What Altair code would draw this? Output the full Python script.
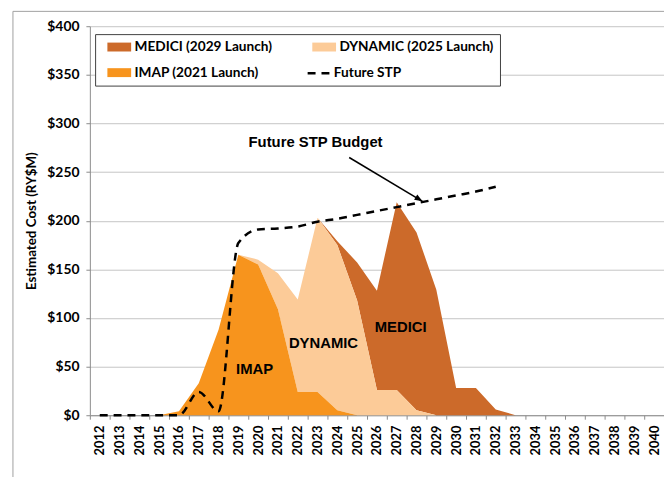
import altair as alt
import pandas as pd

# ---------------- data ----------------
years = list(range(2012, 2041))

imap_vals = [0, 0, 0, 0, 4, 33, 88, 165, 155, 109, 24, 24, 5,
             0, 0, 0, 0, 0, 0, 0, 0, 0, 0, 0, 0, 0, 0, 0, 0]
dynamic_vals = [0, 0, 0, 0, 0, 0, 0, 0, 5, 37, 95, 179, 170, 118,
                26, 26, 5, 0, 0, 0, 0, 0, 0, 0, 0, 0, 0, 0, 0]
medici_vals = [0, 0, 0, 0, 0, 0, 0, 0, 0, 0, 0, 0, 4, 39, 102,
               193, 183, 129, 28, 28, 6, 0, 0, 0, 0, 0, 0, 0, 0]
stp_vals = [0, 0, 0, 0, 0, 24, 4, 177, 191, 192, 194, 199, 202, 206,
            210, 214, 218, 222, 226, 230, 235,
            None, None, None, None, None, None, None, None]

series_names = ["MEDICI (2029 Launch)", "DYNAMIC (2025 Launch)", "IMAP (2021 Launch)"]
series_colors = ["#CC6A2A", "#FCCB98", "#F7941D"]
stack_rank = [2, 1, 0]
line_name = "Future STP"

y_ticks = [0, 50, 100, 150, 200, 250, 300, 350, 400]

# annotations: label, x (year units), value
ann_labels = ["IMAP", "DYNAMIC", "MEDICI", "Future STP Budget"]
ann_x = [2019.82, 2023.3, 2027.2, 2022.9]
ann_y = [47.8, 74.3, 90.6, 281]
arrow_from = (2024.6, 265)
arrow_to = (2028.3, 220)

# ---------------- tables ----------------
rows = []
for name, vals, rk in zip(series_names, [medici_vals, dynamic_vals, imap_vals], stack_rank):
    for yr, v in zip(years, vals):
        rows.append({"year": yr, "series": name, "value": v, "rank": rk})
area_df = pd.DataFrame(rows)

stp_df = pd.DataFrame({"year": years, "value": stp_vals})
stp_df = stp_df.dropna()
stp_df["series"] = line_name

ann_df = pd.DataFrame({"label": ann_labels, "x": ann_x, "value": ann_y})
arrow_df = pd.DataFrame({"x": [arrow_from[0]], "value": [arrow_from[1]],
                         "x2": [arrow_to[0]], "value2": [arrow_to[1]]})
head_df = pd.DataFrame({"x": [arrow_to[0]], "value": [arrow_to[1]]})
one_df = pd.DataFrame({"k": [0]})

LABEL_FONT = "Lato"
TEXT_FONT = "Liberation Sans"
LEG_FS = 13.8

y_scale = alt.Scale(domain=[0, 400], nice=False, zero=True)


def y_enc(field="value", stack=None):
    kw = {}
    if stack is not None:
        kw["stack"] = stack
    return alt.Y(
        f"{field}:Q",
        scale=y_scale,
        axis=alt.Axis(
            values=y_ticks,
            labelExpr="'$' + datum.value",
            title="Estimated Cost (RY$M)",
            titleFont=LABEL_FONT,
            titleFontSize=13.5,
            titleFontWeight="bold",
            titleColor="black",
            titlePadding=8,
            labelFont=LABEL_FONT,
            labelFontSize=14,
            labelFontWeight="bold",
            labelColor="black",
            labelPadding=7,
            tickSize=4,
            tickColor="#8C8C8C",
            domainColor="#8C8C8C",
            grid=True,
            gridColor="#C4C4C4",
        ),
        **kw,
    )


x_band = alt.X(
    "year:O",
    bandPosition=0.5,
    scale=alt.Scale(type="band", domain=years, paddingInner=0, paddingOuter=0),
    axis=alt.Axis(
        title=None,
        labelAngle=270,
        tickBand="extent",
        tickSize=4,
        tickColor="#8C8C8C",
        domainColor="#8C8C8C",
        labelFont=LABEL_FONT,
        labelFontSize=13,
        labelFontWeight="bold",
        labelColor="black",
        labelPadding=6,
        grid=False,
    ),
)

x_quant_scale = alt.Scale(domain=[2011.5, 2040.5], nice=False, zero=False)

area = alt.Chart(area_df).mark_area(interpolate="linear").encode(
    x=x_band,
    y=y_enc("value", stack="zero"),
    color=alt.Color(
        "series:N",
        scale=alt.Scale(domain=series_names, range=series_colors),
        legend=alt.Legend(
            title=None,
            orient="none",
            direction="horizontal",
            legendX=5.3,
            legendY=8,
            columns=2,
            columnPadding=34,
            rowPadding=11,
            padding=6,
            symbolType="M-2,-0.75H2V0.75H-2Z",
            symbolSize=144,
            symbolStrokeWidth=0,
            symbolOffset=11.5,
            labelFont=LABEL_FONT,
            labelFontSize=LEG_FS,
            labelFontWeight="bold",
            labelColor="black",
            labelOffset=8.5,
            strokeColor="#404040",
            fillColor="white",
        ),
    ),
    order=alt.Order("rank:Q", sort="ascending"),
)

line = alt.Chart(stp_df).mark_line(
    color="black", strokeWidth=2.5, interpolate="monotone"
).encode(
    x=x_band,
    y=y_enc("value"),
    strokeDash=alt.StrokeDash(
        "series:N",
        scale=alt.Scale(domain=[line_name], range=[[8, 6]]),
        legend=alt.Legend(
            title=None,
            orient="none",
            legendX=218.5,
            legendY=35,
            padding=0,
            symbolType="stroke",
            symbolSize=484,
            symbolStrokeWidth=2.5,
            symbolStrokeColor="black",
            labelFont=LABEL_FONT,
            labelFontSize=LEG_FS,
            labelFontWeight="bold",
            labelColor="black",
            labelOffset=3,
        ),
    ),
)

base = alt.layer(area, line)

texts = alt.Chart(ann_df).mark_text(
    font=TEXT_FONT, fontWeight="bold", fontSize=15, color="black",
    align="center", baseline="middle",
).encode(
    x=alt.X("x:Q", scale=x_quant_scale, axis=None),
    y=y_enc("value"),
    text="label:N",
)

arrow = alt.Chart(arrow_df).mark_rule(color="black", strokeWidth=1.5).encode(
    x=alt.X("x:Q", scale=x_quant_scale, axis=None),
    x2="x2:Q",
    y=y_enc("value"),
    y2="value2:Q",
)

head = alt.Chart(head_df).mark_point(
    shape="M0,0L-0.55,1.4L0.55,1.4Z", filled=True, size=130, angle=121,
    color="black", opacity=1,
).encode(
    x=alt.X("x:Q", scale=x_quant_scale, axis=None),
    y=y_enc("value"),
)

frame_left = alt.Chart(one_df).mark_rule(color="#A0A0A0", strokeWidth=1).encode(
    x=alt.value(-77.7), y=alt.value(-15), y2=alt.value(480)
)
frame_top = alt.Chart(one_df).mark_rule(color="#A0A0A0", strokeWidth=1).encode(
    x=alt.value(-77.7), x2=alt.value(600), y=alt.value(-15)
)

ann = alt.layer(texts, arrow, head, frame_left, frame_top)

chart = (
    alt.layer(base, ann)
    .resolve_scale(x="independent")
    .properties(
        width=580,
        height=393,
        autosize=alt.AutoSizeParams(type="none"),
        padding={"left": 82.7, "top": 16, "right": 0, "bottom": 60},
        background="white",
    )
    .configure_view(strokeWidth=0)
)

chart.save("out.html", embed_options={"renderer": "svg", "actions": False})
